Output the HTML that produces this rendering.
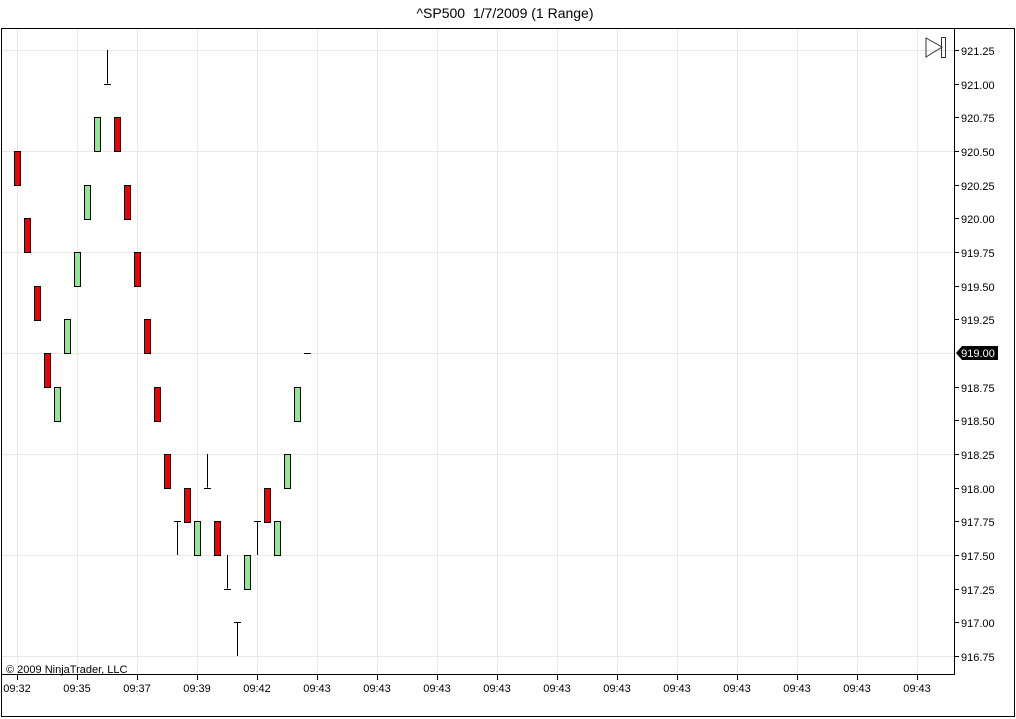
<!DOCTYPE html>
<html><head><meta charset="utf-8"><style>
html,body{margin:0;padding:0;background:#fff;}
svg{display:block;font-family:"Liberation Sans",Arial,sans-serif;}
</style></head><body>
<svg id="s" width="1016" height="719" xmlns="http://www.w3.org/2000/svg">
<rect x="0" y="0" width="1016" height="719" fill="#fff"/>
<text x="505" y="18" font-size="14" text-anchor="middle" fill="#000">^SP500&#160; 1/7/2009 (1 Range)</text>
<rect x="1.5" y="28.5" width="1013" height="688" fill="none" stroke="#000" stroke-width="1"/>
<g id="grid"></g>
<g id="bars"></g>
<line x1="954.5" y1="28" x2="954.5" y2="675" stroke="#000"/>
<line x1="2" y1="674.5" x2="955" y2="674.5" stroke="#000"/>
<g id="axes" font-size="11" fill="#000"></g>
<text x="6" y="673" font-size="11" fill="#000">© 2009 NinjaTrader, LLC</text>
<path d="M926 38 L942 47 L926 57 Z" fill="none" stroke="#333" stroke-width="1"/>
<rect x="941.5" y="37.5" width="4" height="20" fill="none" stroke="#333"/>
<path d="M956 353 L962 346 L998 346 L998 360 L962 360 Z" fill="#000"/>
<text x="978" y="357" font-size="11" fill="#fff" text-anchor="middle">919.00</text>
</svg>
<script>
var NS="http://www.w3.org/2000/svg";
function el(p,t,a,txt){var e=document.createElementNS(NS,t);for(var k in a)e.setAttribute(k,a[k]);if(txt)e.textContent=txt;document.getElementById(p).appendChild(e);}
function y(p){return 50+(921.25-p)*134.67;}
for(var i=0;i<7;i++){var yy=Math.round(y(921.25-0.75*i))+0.5;el("grid","line",{x1:2,x2:954,y1:yy,y2:yy,stroke:"#e9e7e2"});}
var labs=["09:32","09:35","09:37","09:39","09:42"];
for(var i=0;i<16;i++){var x=17+60*i;el("grid","line",{x1:x+0.5,x2:x+0.5,y1:29,y2:674,stroke:"#e9e7e2"});
 el("axes","line",{x1:x+0.5,x2:x+0.5,y1:675,y2:680,stroke:"#000"});
 el("axes","text",{x:x,y:692,"text-anchor":"middle"},i<5?labs[i]:"09:43");}
for(var i=0;i<19;i++){var p=921.25-0.25*i;var yy=Math.round(y(p));
 if(p==919)continue;
 el("axes","line",{x1:954,x2:959,y1:yy+0.5,y2:yy+0.5,stroke:"#000"});
 el("axes","text",{x:961,y:yy+5},p.toFixed(2));}
var b=[["r",920.5,920.25],["r",920,919.75],["r",919.5,919.25],["r",919,918.75],["g",918.5,918.75],["g",919,919.25],["g",919.5,919.75],["g",920,920.25],["g",920.5,920.75],["d",921.25,921,921],
["r",920.75,920.5],["r",920.25,920],["r",919.75,919.5],["r",919.25,919],["r",918.75,918.5],["r",918.25,918],["d",917.75,917.5,917.75],["r",918,917.75],["g",917.5,917.75],["d",918.25,918,918],
["r",917.75,917.5],["d",917.5,917.25,917.25],["d",917,916.75,917],["g",917.25,917.5],["d",917.75,917.5,917.75],["r",918,917.75],["g",917.5,917.75],["g",918,918.25],["g",918.5,918.75],["t",919]];
for(var i=0;i<b.length;i++){var x=17+10*i,c=b[i];
 if(c[0]=="d"){el("bars","line",{x1:x+0.5,x2:x+0.5,y1:y(c[1]),y2:y(c[2]),stroke:"#000"});var ty=Math.round(y(c[3]))+0.5;el("bars","line",{x1:x-3,x2:x+4,y1:ty,y2:ty,stroke:"#000"});}
 else if(c[0]=="t"){el("bars","line",{x1:x-3,x2:x+4,y1:353.5,y2:353.5,stroke:"#000"});}
 else{var t=Math.min(y(c[1]),y(c[2])),h=Math.abs(y(c[1])-y(c[2]));el("bars","rect",{x:x-2.5,y:Math.round(t)+0.5,width:6,height:Math.round(h),fill:c[0]=="r"?"#ee0000":"#90e890",stroke:"#000"});}
}
</script>
</body></html>
